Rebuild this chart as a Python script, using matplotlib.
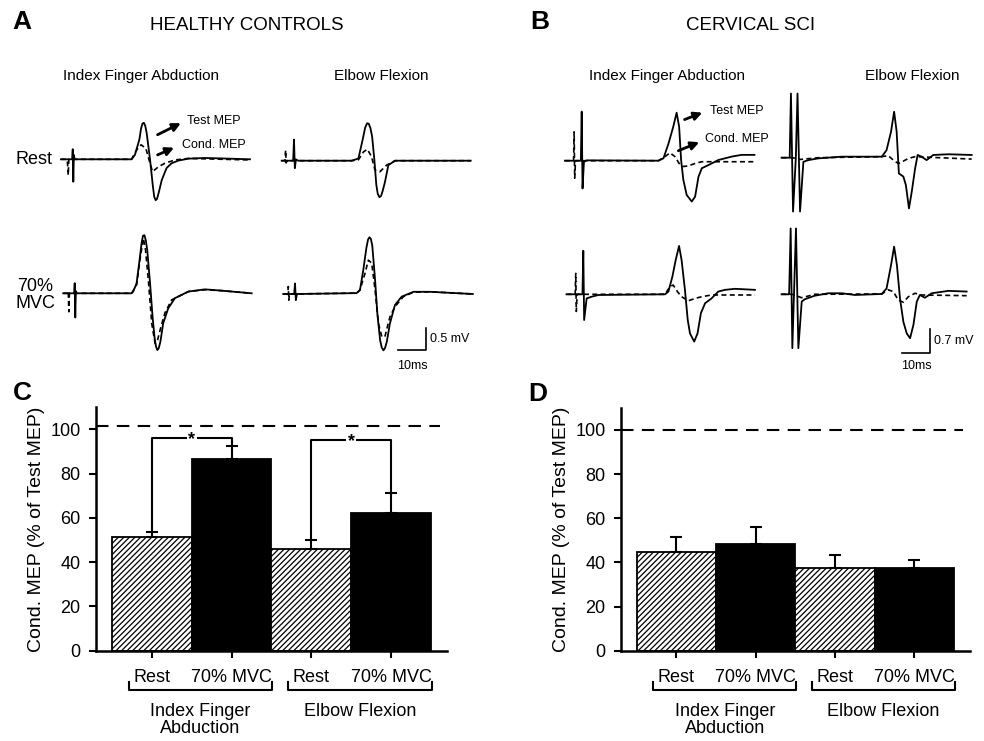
import matplotlib
matplotlib.use('Agg')
import matplotlib.pyplot as plt
import numpy as np

plt.rcParams['font.family'] = ['Liberation Sans', 'DejaVu Sans']
plt.rcParams['hatch.linewidth'] = 0.9

# ---- MEP traces, (time ms after stimulus, amplitude mV) ----
# healthy controls
h_ifa_rest_test = [(-4.4, 0), (-0.4, 0), (-0.2, 0.23), (0, -0.51), (0.2, 0.1), (0.5, 0), (20.8, 0),
                   (22.0, 0.10), (23.6, 0.45), (24.2, 0.70), (24.7, 0.81), (25.2, 0.83), (25.7, 0.76),
                   (26.2, 0.60), (27.4, 0), (28.4, -0.60), (28.9, -0.85), (29.4, -0.93), (29.9, -0.90),
                   (30.5, -0.76), (31.6, -0.47), (33.3, -0.20), (35.1, -0.09),
                   (37.5, -0.03), (41.1, 0.015), (47, 0.03), (53, 0.02), (63.1, 0)]
h_ifa_rest_cond = [(-4.4, 0), (-2.2, 0), (-2.0, -0.15), (-1.8, -0.36), (-1.6, 0), (20.8, 0),
                   (22.6, 0.21), (24.2, 0.33), (25.9, 0.25), (27.4, -0.09), (28.3, -0.28),
                   (30.4, -0.17), (32.7, -0.09), (36.3, -0.015), (41.1, 0.02), (63.1, -0.015)]
h_ef_rest_test = [(-4.4, 0), (-0.3, 0), (0, 0.48), (0.3, -0.17), (0.7, 0.03), (1.5, 0), (20.6, 0),
                  (23.0, 0.05), (24.6, 0.50), (25.4, 0.75), (26.1, 0.85), (26.7, 0.84), (27.3, 0.74),
                  (27.9, 0.55), (28.7, 0.02), (29.4, -0.55), (29.9, -0.75), (30.5, -0.83),
                  (31.1, -0.80), (31.7, -0.68), (32.5, -0.48), (33.7, -0.10), (36.1, 0), (63.1, 0)]
h_ef_rest_cond = [(-4.4, 0), (-3.2, 0), (-3.0, 0.24), (-2.8, -0.05), (-2.5, 0), (20.6, 0),
                  (23.0, 0.02), (24.8, 0.20), (26.2, 0.26), (27.7, 0.09), (28.9, -0.21),
                  (30.7, -0.25), (33.1, -0.10), (36.1, 0), (63.1, 0)]
h_ifa_mvc_test = [(-4.2, 0), (-0.3, 0), (-0.1, 0.23), (0.1, -0.55), (0.3, 0.05), (0.6, 0), (20.2, 0),
                  (20.8, 0.04), (22.0, 0.23), (23.2, 0.83), (23.8, 1.15), (24.3, 1.31), (24.8, 1.32),
                  (25.3, 1.20), (25.8, 0.98), (26.8, 0.23), (27.7, -0.53), (28.4, -1.0), (28.9, -1.20),
                  (29.4, -1.29), (29.9, -1.25), (30.5, -1.10), (31.5, -0.68),
                  (33.3, -0.34), (35.7, -0.11), (40.5, 0.04), (46.4, 0.09), (52.4, 0.06), (63.1, 0)]
h_ifa_mvc_cond = [(-4.2, 0), (-2.6, 0), (-2.4, 0.05), (-2.2, -0.42), (-2.0, 0), (20.2, 0),
                  (22.0, 0.19), (23.2, 0.76), (24.4, 1.25), (25.2, 0.98), (26.2, 0.30), (27.4, -0.68),
                  (28.6, -1.14), (29.5, -1.06), (30.7, -0.76), (32.1, -0.45), (34.5, -0.15),
                  (40.5, 0.04), (46.4, 0.08), (52.4, 0.06), (63.1, 0)]
h_ef_mvc_test = [(-4.2, 0), (-0.3, 0), (0, 0.24), (0.3, -0.14), (0.7, 0), (22.0, 0.02), (23.2, 0.09),
                 (24.4, 0.55), (25.5, 1.05), (26.1, 1.24), (26.6, 1.29), (27.1, 1.25), (27.6, 1.10),
                 (28.6, 0.32), (29.4, -0.44), (30.4, -1.05), (31.0, -1.22), (31.6, -1.28),
                 (32.2, -1.22), (32.8, -1.08), (33.9, -0.67), (35.7, -0.25),
                 (38.1, -0.06), (42.3, 0.05), (48.2, 0.05), (63.5, 0)]
h_ef_mvc_cond = [(-4.2, 0), (-2.6, 0), (-2.4, 0.17), (-2.2, -0.14), (-2.0, 0), (22.0, 0.02),
                 (23.2, 0.09), (25.0, 0.47), (26.2, 0.77), (27.4, 0.70), (28.6, 0.09), (29.8, -0.67),
                 (31.0, -0.97), (32.1, -0.97), (33.9, -0.52), (35.7, -0.29), (38.7, -0.06),
                 (42.3, 0.04), (48.2, 0.05), (63.5, 0)]
# cervical SCI
s_ifa_rest_test = [(-6, 0), (-0.3, 0), (0, 1.43), (0.3, -0.81), (0.8, -0.03), (1.8, 0.01), (27.4, 0),
                   (29.2, 0.07), (31.0, 0.50), (32.7, 0.99), (33.9, 1.40), (34.8, 0.99), (35.5, 0.02),
                   (36.3, -0.56), (37.5, -1.00), (39.3, -1.19), (40.5, -1.05), (41.7, -0.47),
                   (42.9, -0.22), (45.2, -0.13), (48.8, 0.02), (53.6, 0.12), (57.1, 0.17), (61.7, 0.17)]
s_ifa_rest_cond = [(-6, 0), (-2.9, 0), (-2.7, 0.84), (-2.5, -0.51), (-2.2, 0), (27.4, 0),
                   (29.8, 0.12), (31.5, 0.23), (33.3, 0.12), (34.8, -0.08), (36.3, -0.17),
                   (38.1, -0.15), (40.5, -0.08), (42.9, -0.03), (61.7, -0.03)]
s_ef_rest_test = [(-4.8, 0), (-1.9, 0), (-1.45, 1.87), (-0.7, -1.57), (0.3, 0), (0.9, 1.87),
                  (1.8, -1.57), (3.0, -0.12), (4.8, -0.07), (8.3, -0.02), (16.7, 0.03), (31.0, 0.03),
                  (32.7, 0.22), (34.3, 0.76), (35.4, 1.34), (36.3, 0.76), (37.1, -0.46), (38.7, -0.55),
                  (39.6, -0.80), (40.7, -1.48), (41.7, -0.99), (42.9, -0.31), (43.8, 0.08),
                  (45.2, 0.03), (47.0, -0.07), (49.4, 0.08), (54.8, 0.10), (63.1, 0.08)]
s_ef_rest_cond = [(-4.8, 0), (-1.0, 0), (2.0, -0.05), (8.3, 0), (31.0, 0.03), (33.3, 0.06),
                  (35.1, -0.07), (36.9, -0.17), (38.7, -0.10), (40.5, -0.02), (42.9, 0.03), (63.1, -0.04)]
s_ifa_mvc_test = [(-6, 0), (-0.3, 0), (0, 1.27), (0.3, -0.75), (1.2, -0.12), (3.0, -0.07), (5.4, -0.02),
                  (29.2, 0), (30.4, 0.08), (31.8, 0.51), (33.0, 1.00), (34.2, 1.41), (35.1, 1.00),
                  (36.3, 0.13), (37.3, -0.75), (38.1, -1.14), (39.6, -1.38), (40.8, -1.14),
                  (42.0, -0.55), (43.5, -0.26), (45.8, -0.12), (48.2, 0.08), (50.6, 0.13),
                  (54.2, 0.16), (61.3, 0.13)]
s_ifa_mvc_cond = [(-6, 0), (-2.9, 0), (-2.7, 0.61), (-2.5, -0.50), (-2.2, 0), (29.2, 0),
                  (30.9, 0.22), (32.1, 0.27), (33.6, 0.08), (35.1, -0.07), (37.5, -0.19),
                  (39.9, -0.12), (42.3, -0.07), (45.8, -0.02), (61.3, -0.02)]
s_ef_mvc_test = [(-4.8, 0), (-2.1, 0), (-1.55, 1.92), (-0.95, -1.57), (0.35, 1.92), (1.2, -1.57),
                 (2.4, -0.21), (3.6, -0.14), (7.1, -0.04), (11.9, 0.03), (16.7, 0.03), (21.4, -0.02),
                 (31.0, 0.01), (32.7, 0.17), (34.3, 0.85), (35.4, 1.39), (36.4, 0.85), (37.5, -0.12),
                 (38.7, -0.80), (39.9, -1.14), (41.1, -1.28), (42.3, -0.89), (43.5, -0.21),
                 (44.6, -0.02), (46.4, -0.10), (48.8, 0.03), (54.8, 0.10), (61.3, 0.08)]
s_ef_mvc_cond = [(-4.8, 0), (-1.0, 0), (2.4, -0.1), (7.1, 0), (31.0, 0.01), (33.3, 0.13),
                 (35.1, 0.08), (36.9, -0.17), (38.7, -0.23), (40.5, -0.07), (42.9, 0.03),
                 (45.2, -0.02), (61.3, -0.04)]

# ---- bar data: Cond. MEP as % of Test MEP ----
conditions = ['Rest', '70% MVC', 'Rest', '70% MVC']
muscles = ['Index Finger\nAbduction', 'Elbow Flexion']
hc_mean = [51.5, 86.5, 45.8, 62.0]
hc_err = [2.0, 5.8, 4.3, 9.3]
sci_mean = [44.9, 48.3, 37.3, 37.6]
sci_err = [6.5, 7.7, 5.9, 3.5]

W, H = 984, 741
PX_MS = 2.8
fig = plt.figure(figsize=(W / 100, H / 100), dpi=100)


def fx(x):
    return x / W


def fy(y):
    return 1 - y / H


def trace_axes(stim_x, base_y, px_mv, vlim):
    tlim = (-8, 68)
    left = stim_x + tlim[0] * PX_MS
    width = (tlim[1] - tlim[0]) * PX_MS
    top = base_y - vlim[1] * px_mv
    height = (vlim[1] - vlim[0]) * px_mv
    ax = fig.add_axes([fx(left), fy(top + height), width / W, height / H])
    ax.set_xlim(tlim)
    ax.set_ylim(vlim)
    ax.axis('off')
    return ax


def draw_pair(ax, test, cond):
    ax.plot([p[0] for p in cond], [p[1] for p in cond], color='k', lw=1.2,
            ls=(0, (3, 2)), clip_on=False)
    ax.plot([p[0] for p in test], [p[1] for p in test], color='k', lw=1.3, clip_on=False)


# healthy traces (0.5 mV = 22 px)
HV = 44.0
ax1 = trace_axes(73.3, 159.3, HV, (-1.6, 1.6))
draw_pair(ax1, h_ifa_rest_test, h_ifa_rest_cond)
ax1.annotate('', xy=(39.3, 0.85), xytext=(29.2, 0.53),
             arrowprops=dict(arrowstyle='-|>', lw=2, color='k', mutation_scale=12))
ax1.text(40.5, 0.87, 'Test MEP', fontsize=9, va='center')
ax1.annotate('', xy=(36.9, 0.29), xytext=(29.2, 0.075),
             arrowprops=dict(arrowstyle='-|>', lw=2, color='k', mutation_scale=12))
ax1.text(38.7, 0.33, 'Cond. MEP', fontsize=9, va='center')

ax2 = trace_axes(294, 160.7, HV, (-1.6, 1.6))
draw_pair(ax2, h_ef_rest_test, h_ef_rest_cond)
ax3 = trace_axes(75, 293.3, HV, (-1.6, 1.6))
draw_pair(ax3, h_ifa_mvc_test, h_ifa_mvc_cond)
ax4 = trace_axes(295, 294, HV, (-1.6, 1.6))
draw_pair(ax4, h_ef_mvc_test, h_ef_mvc_cond)
ax4.plot([36.8, 46.8, 46.8], [-1.27, -1.27, -0.77], color='k', lw=1.2, clip_on=False)
ax4.text(48.3, -1.02, '0.5 mV', fontsize=9, va='center')
ax4.text(41.8, -1.64, '10ms', fontsize=9, va='center', ha='center')

# SCI traces (0.7 mV = 24 px)
SV = 34.3
bx1 = trace_axes(581.7, 160.7, SV, (-2.0, 2.0))
draw_pair(bx1, s_ifa_rest_test, s_ifa_rest_cond)
bx1.annotate('', xy=(44.0, 1.43), xytext=(35.8, 1.17),
             arrowprops=dict(arrowstyle='-|>', lw=2, color='k', mutation_scale=12))
bx1.text(46.0, 1.44, 'Test MEP', fontsize=9, va='center')
bx1.annotate('', xy=(42.9, 0.57), xytext=(33.6, 0.26),
             arrowprops=dict(arrowstyle='-|>', lw=2, color='k', mutation_scale=12))
bx1.text(44.2, 0.62, 'Cond. MEP', fontsize=9, va='center')

bx2 = trace_axes(795, 157.7, SV, (-2.0, 2.0))
draw_pair(bx2, s_ef_rest_test, s_ef_rest_cond)
bx3 = trace_axes(583.3, 294.3, SV, (-2.0, 2.0))
draw_pair(bx3, s_ifa_mvc_test, s_ifa_mvc_cond)
bx4 = trace_axes(795, 294.3, SV, (-2.0, 2.0))
draw_pair(bx4, s_ef_mvc_test, s_ef_mvc_cond)
bx4.plot([38.2, 48.2, 48.2], [-1.71, -1.71, -1.01], color='k', lw=1.2, clip_on=False)
bx4.text(49.6, -1.36, '0.7 mV', fontsize=9, va='center')
bx4.text(43.2, -2.09, '10ms', fontsize=9, va='center', ha='center')

# top headers
fig.text(fx(22), fy(22), 'A', fontsize=19, fontweight='bold', ha='center', va='center')
fig.text(fx(540), fy(22), 'B', fontsize=19, fontweight='bold', ha='center', va='center')
fig.text(fx(247), fy(25), 'HEALTHY CONTROLS', fontsize=13.5, ha='center', va='center')
fig.text(fx(751), fy(25), 'CERVICAL SCI', fontsize=13.5, ha='center', va='center')
for xc, lab in [(141, 'Index Finger Abduction'), (381, 'Elbow Flexion'),
                (667, 'Index Finger Abduction'), (912, 'Elbow Flexion')]:
    fig.text(fx(xc), fy(76), lab, fontsize=11, ha='center', va='center')
fig.text(fx(34), fy(159), 'Rest', fontsize=13, ha='center', va='center')
fig.text(fx(35), fy(295), '70%\nMVC', fontsize=13, ha='center', va='center', linespacing=1.0)


# ---- bar panels ----
def bar_panel(rect, means, errs, ref_y, letter, letter_x):
    ax = fig.add_axes(rect)
    x = np.arange(len(means))
    bars = ax.bar(x, means, width=1.0, color=['white', 'black', 'white', 'black'],
                  edgecolor='k', linewidth=1.3, zorder=2)
    for b, h in zip(bars, ['//////', '', '//////', '']):
        b.set_hatch(h)
    ax.errorbar(x, means, yerr=[np.zeros(len(errs)), errs], fmt='none', ecolor='k',
                elinewidth=1.5, capsize=4, capthick=1.5, zorder=3)
    ax.axhline(ref_y, xmin=0, xmax=0.98, color='k', lw=1.5, ls=(0, (6, 4)))
    ax.set_ylim(0, 110)
    ax.set_xlim(-0.7, 3.7)
    ax.set_yticks([0, 20, 40, 60, 80, 100])
    ax.set_xticks(x)
    ax.set_xticklabels(conditions)
    ax.tick_params(axis='both', direction='out', length=5, width=1.5, labelsize=13, pad=6)
    ax.tick_params(axis='x', pad=8)
    for s in ['top', 'right']:
        ax.spines[s].set_visible(False)
    for s in ['left', 'bottom']:
        ax.spines[s].set_linewidth(1.8)
    ax.set_ylabel('Cond. MEP (% of Test MEP)', fontsize=14, labelpad=4)
    # group brackets under the tick labels
    for g, lab in enumerate(muscles):
        x0, x1 = x[2 * g] - 0.29, x[2 * g + 1] + 0.51
        ax.plot([x0, x0, x1, x1], [-14.2, -17.8, -17.8, -14.2], color='k', lw=1.5, clip_on=False)
        ax.text((x0 + x1) / 2, -23.5, lab, fontsize=13, ha='center', va='top',
                linespacing=1.0, clip_on=False)
    ax.text(letter_x, 1.058, letter, transform=ax.transAxes, fontsize=19, fontweight='bold',
            ha='center', va='center')
    return ax


cax = bar_panel([fx(96), fy(650.7), (447 - 96) / W, 243.5 / H], hc_mean, hc_err, 101.4, 'C', -0.21)
# significance brackets
for a, b, top in [(0, 1, 96.0), (2, 3, 95.3)]:
    cax.plot([a, a, b, b], [hc_mean[a] + hc_err[a], top, top, hc_mean[b] + hc_err[b]],
             color='k', lw=1.5, zorder=4)
    cax.text((a + b) / 2, top - 0.8, '*', fontsize=13, fontweight='bold', ha='center',
             va='center', zorder=5, bbox=dict(facecolor='white', edgecolor='none', pad=1))

dax = bar_panel([fx(620.7), fy(650.7), (970 - 620.7) / W, 242.8 / H], sci_mean, sci_err, 100, 'D', -0.237)

fig.savefig('out.png', dpi=100)
